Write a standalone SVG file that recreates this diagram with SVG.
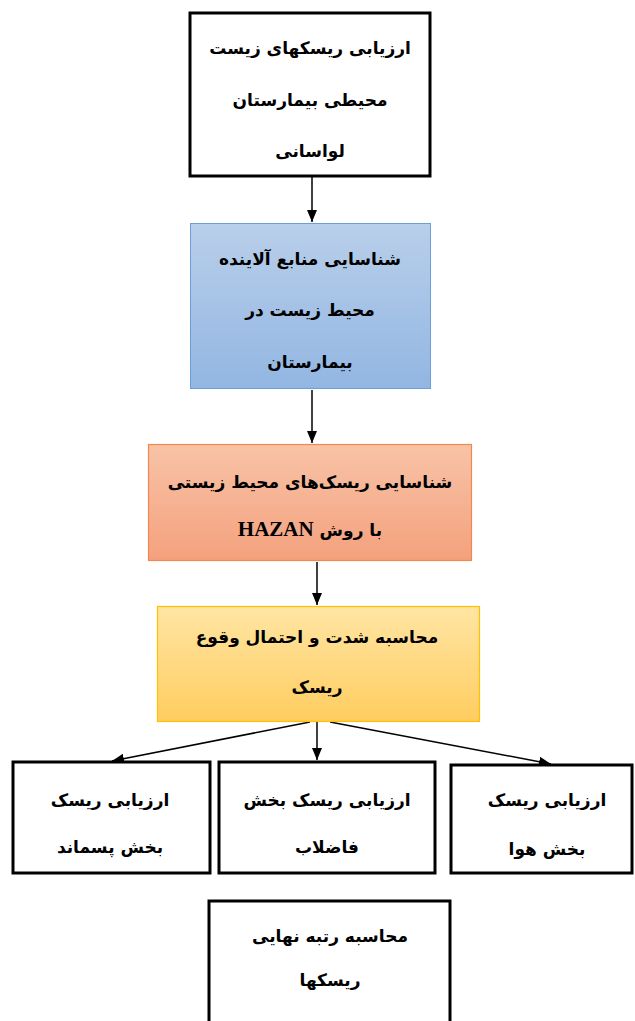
<svg xmlns="http://www.w3.org/2000/svg" width="635" height="1021" viewBox="0 0 635 1021">
<style>
.t{font-family:"DejaVu Sans",sans-serif;font-weight:bold;font-size:17px;fill:#000;text-anchor:middle;direction:rtl}
.bk{fill:#fff;stroke:#000;stroke-width:3}
.c{stroke:#000;stroke-width:1.5;fill:none;marker-end:url(#ah)}
</style>
<defs>
<marker id="ah" viewBox="0 0 12 10" refX="12" refY="5" markerWidth="12" markerHeight="10" markerUnits="userSpaceOnUse" orient="auto">
<path d="M0,0 L12,5 L0,10 Z" fill="#000"/>
</marker>
<linearGradient id="gb" x1="0" y1="0" x2="0" y2="1"><stop offset="0" stop-color="#b9cfea"/><stop offset="1" stop-color="#92b6e2"/></linearGradient>
<linearGradient id="go" x1="0" y1="0" x2="0" y2="1"><stop offset="0" stop-color="#f8c3a7"/><stop offset="1" stop-color="#f4a17d"/></linearGradient>
<linearGradient id="gy" x1="0" y1="0" x2="0" y2="1"><stop offset="0" stop-color="#ffe5a3"/><stop offset="1" stop-color="#ffcd60"/></linearGradient>
</defs>
<g id="connectors">
<line class="c" x1="312" y1="177" x2="312" y2="222"/>
<line class="c" x1="312" y1="390" x2="312" y2="443"/>
<line class="c" x1="317" y1="562" x2="317" y2="605"/>
<line class="c" x1="310" y1="722" x2="112" y2="761"/>
<line class="c" x1="317" y1="722" x2="317" y2="760"/>
<line class="c" x1="330" y1="722" x2="551" y2="764"/>
</g>
<g id="n1">
<rect class="bk" x="190" y="13" width="240" height="163"/>
<text class="t" x="310" y="54">ارزیابی ریسکهای زیست</text>
<text class="t" x="310" y="106">محیطی بیمارستان</text>
<text class="t" x="310" y="157">لواسانی</text>
</g>
<g id="n2">
<rect x="190.5" y="223.5" width="240" height="165" fill="url(#gb)" stroke="#6a9fd8" stroke-width="1"/>
<text class="t" x="310" y="265">شناسایی منابع آلاینده</text>
<text class="t" x="310" y="316">محیط زیست در</text>
<text class="t" x="310" y="368">بیمارستان</text>
</g>
<g id="n3">
<rect x="148.5" y="444.5" width="323" height="116" fill="url(#go)" stroke="#f08850" stroke-width="1.2"/>
<text class="t" x="310" y="488">شناسایی ریسک‌های محیط زیستی</text>
<text class="t" x="310" y="536">با روش <tspan style="font-family:'Liberation Serif',serif;font-size:21px">HAZAN</tspan></text>
</g>
<g id="n4">
<rect x="157.5" y="606.5" width="322" height="115" fill="url(#gy)" stroke="#ffc000" stroke-width="1.2"/>
<text class="t" x="317" y="643">محاسبه شدت و احتمال وقوع</text>
<text class="t" x="317" y="693">ریسک</text>
</g>
<g id="n5">
<rect class="bk" x="13" y="762" width="197" height="111"/>
<text class="t" x="110" y="806">ارزیابی ریسک</text>
<text class="t" x="110" y="853">بخش پسماند</text>
</g>
<g id="n6">
<rect class="bk" x="219" y="762" width="216" height="111"/>
<text class="t" x="327" y="806">ارزیابی ریسک بخش</text>
<text class="t" x="327" y="853">فاضلاب</text>
</g>
<g id="n7">
<rect class="bk" x="451" y="765" width="181" height="108"/>
<text class="t" x="547" y="806">ارزیابی ریسک</text>
<text class="t" x="547" y="855">بخش هوا</text>
</g>
<g id="n8">
<rect class="bk" x="209" y="901" width="241" height="130"/>
<text class="t" x="330" y="942">محاسبه رتبه نهایی</text>
<text class="t" x="330" y="986">ریسکها</text>
</g>
</svg>
